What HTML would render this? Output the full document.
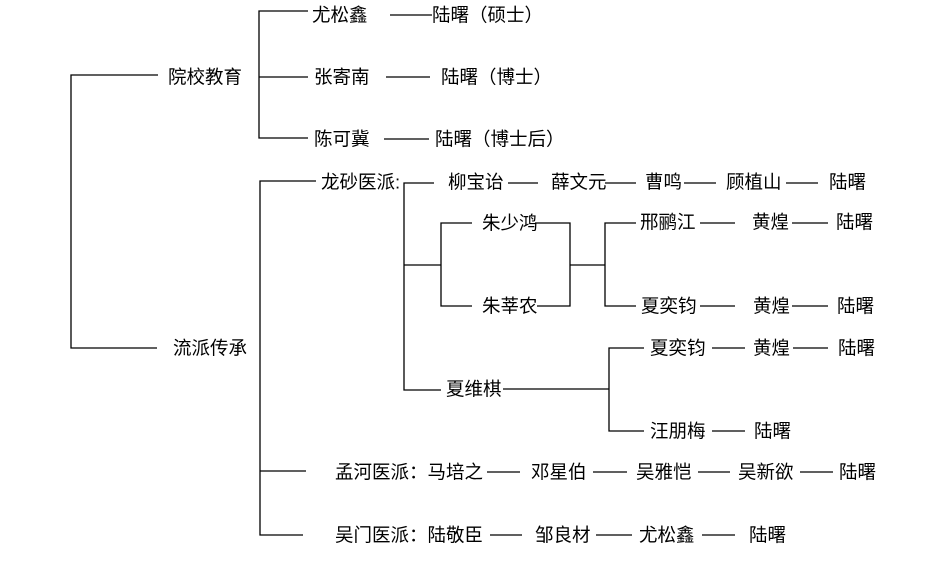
<!DOCTYPE html>
<html><head><meta charset="utf-8"><style>
html,body{margin:0;padding:0;background:#fff;}
svg{display:block;}
text{font-family:"Liberation Sans","Noto Sans CJK SC",sans-serif;font-size:18.5px;fill:#000;dominant-baseline:central;}
</style></head><body>
<svg width="929" height="568" viewBox="0 0 929 568" xmlns="http://www.w3.org/2000/svg">
<g stroke="#000" stroke-width="1.3" fill="none">
<path d="M158 75H71V348H157"/>
<path d="M308 11H259V138H308M259 77H308"/>
<path d="M390 15H432M386 77H430M384 139H429"/>
<path d="M316 181H260V535H303M260 471H306"/>
<path d="M434 183H404V390H441"/>
<path d="M508 183H538M605 183H636M684 183H716M786 183H818"/>
<path d="M404 265H441M472 223H441V306H472"/>
<path d="M535 223H570V306H537M570 265H605M636 223H605V306H636"/>
<path d="M700 223H735M792 223H828M700 306H735M792 306H828"/>
<path d="M503 389H609M644 348H609V431H644"/>
<path d="M712 348H745M793 348H828M712 431H745"/>
<path d="M487 472H520M593 472H627M698 472H730M800 472H833"/>
<path d="M490 535H522M596 535H632M702 535H735"/>
</g>
<text x="168" y="77">院校教育</text>
<text x="173" y="348">流派传承</text>
<text x="312" y="15">尤松鑫</text>
<text x="432" y="15">陆曙（硕士）</text>
<text x="314" y="77">张寄南</text>
<text x="441" y="77">陆曙（博士）</text>
<text x="314" y="139">陈可冀</text>
<text x="435" y="139">陆曙（博士后）</text>
<text x="321" y="182">龙砂医派:</text>
<text x="448" y="182">柳宝诒</text>
<text x="551" y="182">薛文元</text>
<text x="645" y="182">曹鸣</text>
<text x="726" y="182">顾植山</text>
<text x="829" y="182">陆曙</text>
<text x="482" y="223">朱少鸿</text>
<text x="482" y="306">朱莘农</text>
<text x="640" y="222">邢鹂江</text>
<text x="752" y="222">黄煌</text>
<text x="836" y="222">陆曙</text>
<text x="641" y="306">夏奕钧</text>
<text x="753" y="306">黄煌</text>
<text x="837" y="306">陆曙</text>
<text x="446" y="389">夏维棋</text>
<text x="650" y="348">夏奕钧</text>
<text x="753" y="348">黄煌</text>
<text x="838" y="348">陆曙</text>
<text x="650" y="431">汪朋梅</text>
<text x="754" y="431">陆曙</text>
<text x="335" y="472">孟河医派：马培之</text>
<text x="531" y="472">邓星伯</text>
<text x="636" y="472">吴雅恺</text>
<text x="738" y="472">吴新欲</text>
<text x="839" y="472">陆曙</text>
<text x="335" y="535">吴门医派：陆敬臣</text>
<text x="535" y="535">邹良材</text>
<text x="639" y="535">尤松鑫</text>
<text x="749" y="535">陆曙</text>
</svg>
</body></html>
